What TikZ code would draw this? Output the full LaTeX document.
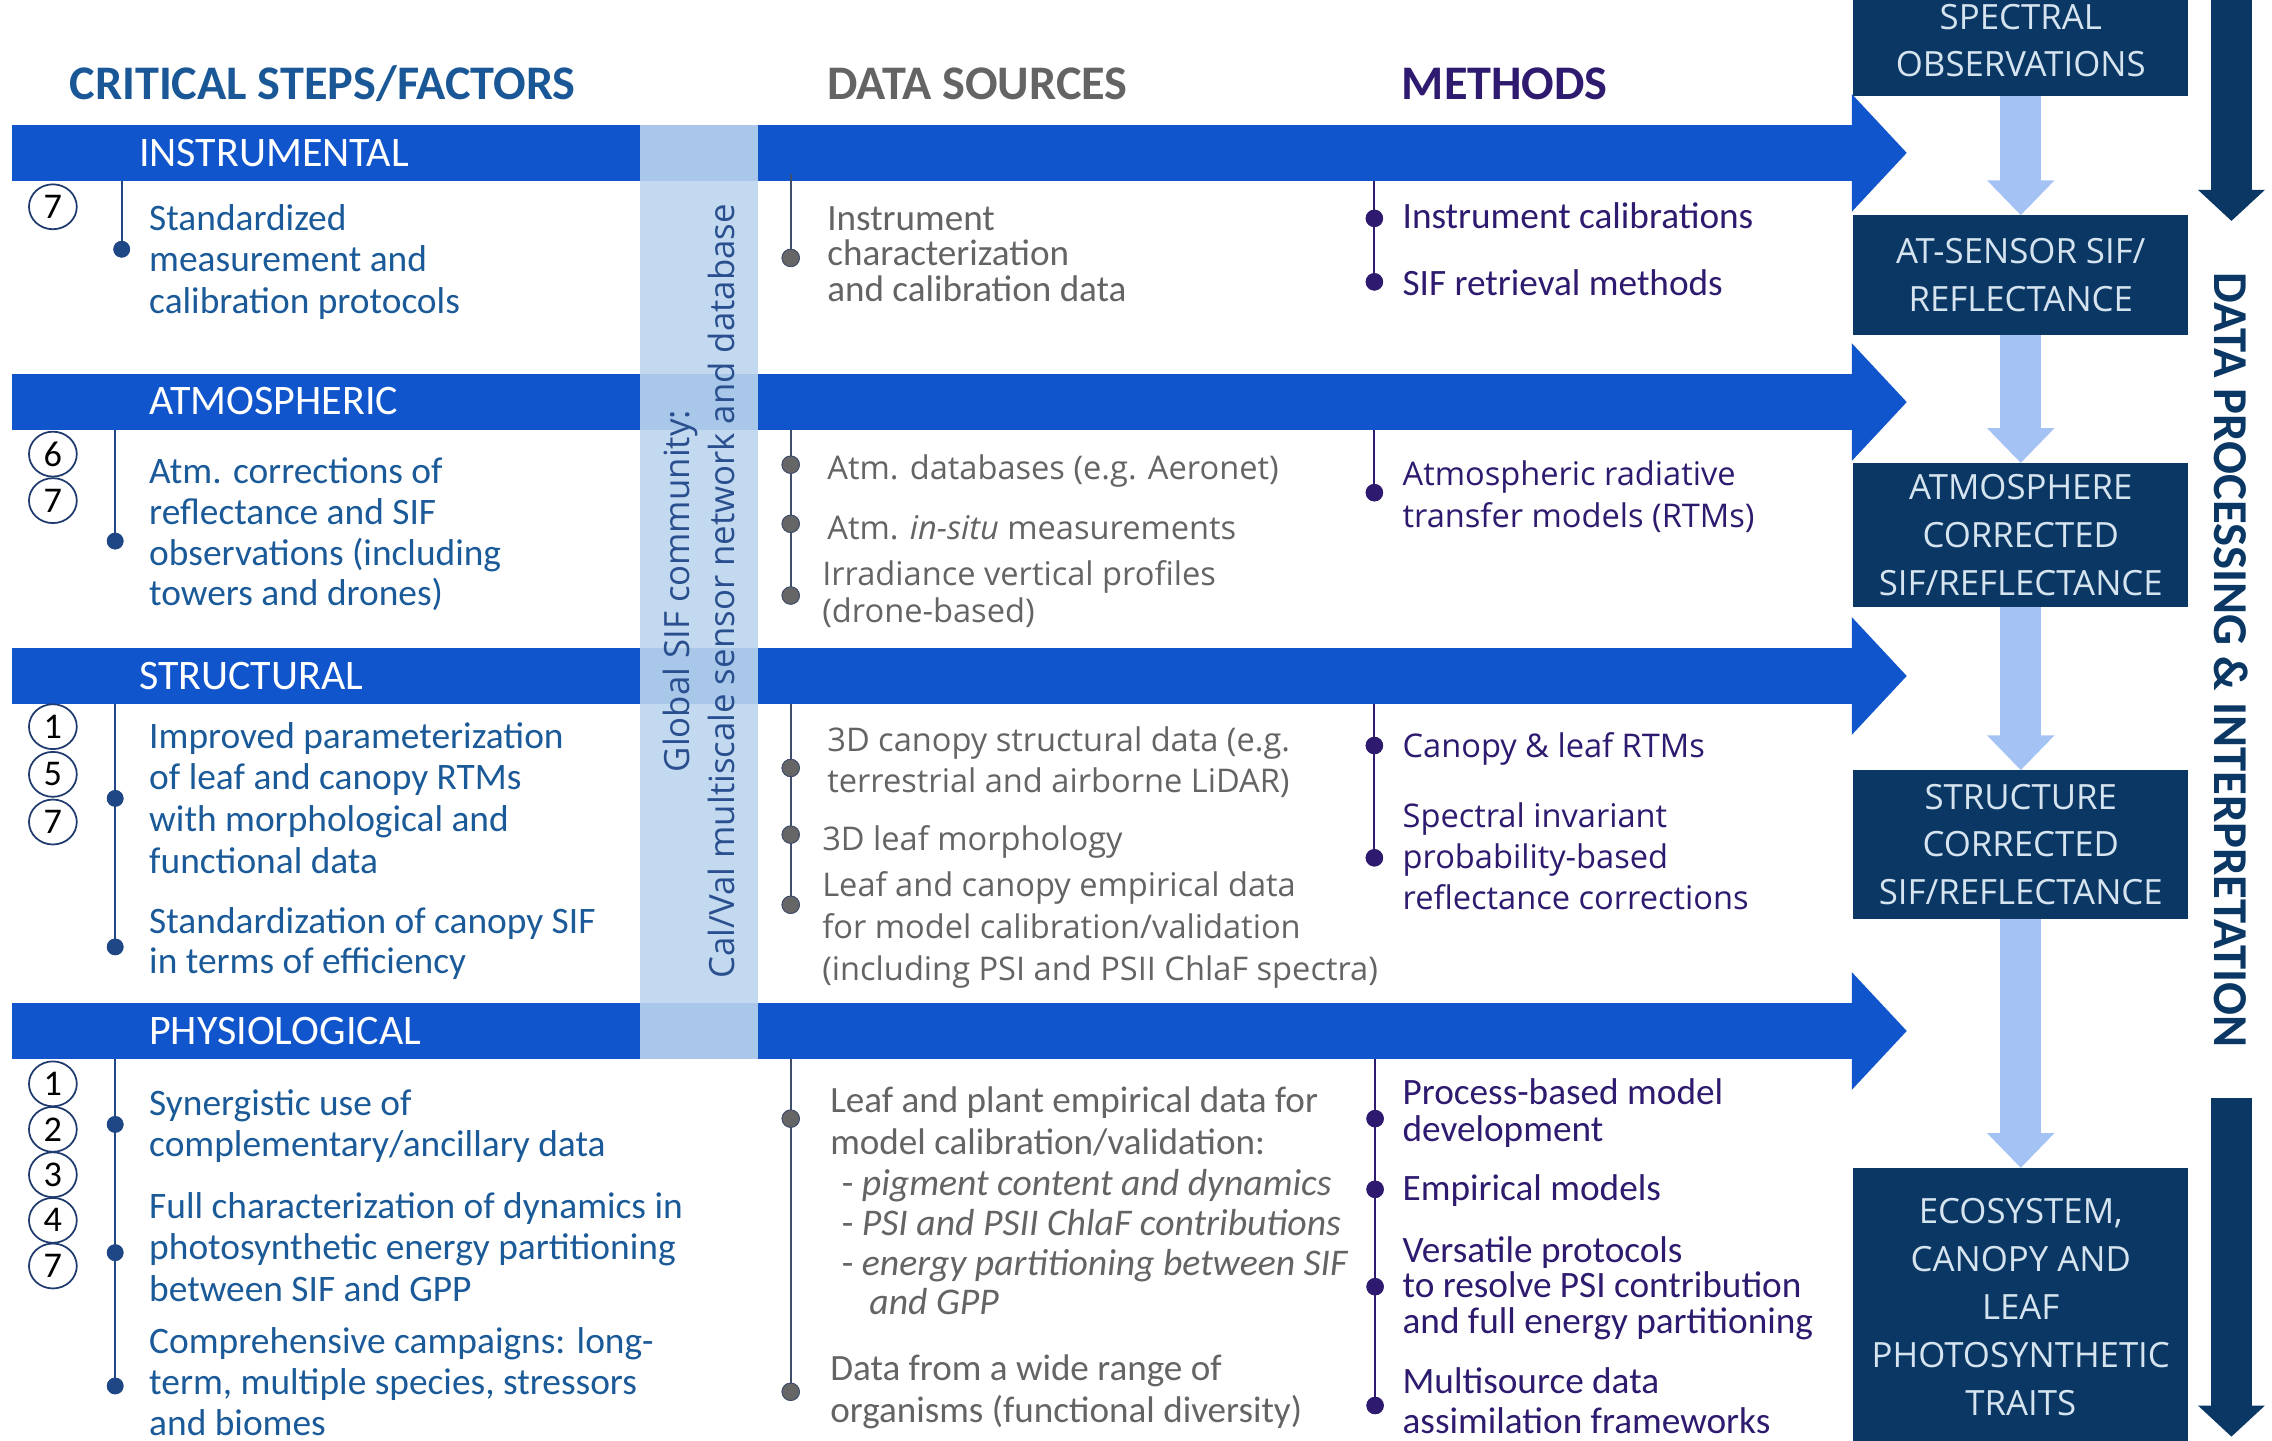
\documentclass[tikz,border=0pt]{standalone}
\usepackage{fontspec}
\setmainfont{Carlito}
\newfontfamily\osans{Open Sans}
\usetikzlibrary{arrows.meta,shapes.geometric}

\definecolor{bandblue}{HTML}{1155CC}
\definecolor{stripc}{HTML}{C2D9EF}
\definecolor{stripd}{HTML}{A9C7E9}
\definecolor{leftblue}{HTML}{1B5A98}
\definecolor{leftdot}{HTML}{1F4785}
\definecolor{hdrblue}{HTML}{1A5796}
\definecolor{graytxt}{HTML}{646464}
\definecolor{grayline}{HTML}{3F4E6B}
\definecolor{graydot}{HTML}{666666}
\definecolor{purp}{HTML}{2E1A6E}
\definecolor{navy}{HTML}{0A3764}
\definecolor{boxtxt}{HTML}{D6E4F0}
\definecolor{lightarr}{HTML}{A4C2F4}
\definecolor{circc}{HTML}{1E3A6E}
\definecolor{striptxt}{HTML}{2A4F8F}

\newcommand\tlines[6]{\foreach \tline [count=\tidx] in {#6}{\node[#1] (#2\tidx) at (#3,{#4+(\tidx-1)*#5}) {\tline};}}

\begin{document}
\begin{tikzpicture}[x=1pt,y=-1pt,
  every node/.style={inner sep=0pt,outer sep=0pt},
  lt/.style={text=leftblue,font=\fontsize{25.8}{29}\selectfont,anchor=base west},
  dt/.style={text=graytxt,font=\fontsize{25.6}{29}\selectfont,anchor=base west},
  dti/.style={text=graytxt,font=\itshape\fontsize{26}{29}\selectfont,anchor=base west},
  dto/.style={text=graytxt,font=\osans\fontsize{22.5}{26}\selectfont,anchor=base west},
  mt/.style={text=purp,font=\fontsize{25.7}{29}\selectfont,anchor=base west},
  mto/.style={text=purp,font=\osans\fontsize{22.5}{26}\selectfont,anchor=base west},
  hdr/.style={font=\bfseries\fontsize{33.3}{38}\selectfont,anchor=base west},
  bandlbl/.style={text=white,font=\fontsize{29}{32}\selectfont,anchor=base west},
  cnum/.style={ellipse,draw=circc,line width=1.2pt,minimum width=33pt,minimum height=31pt,font=\fontsize{25}{28}\selectfont,text=black},
  ldot/.style={circle,fill=leftdot,minimum size=11.5pt},
  gdot/.style={circle,fill=graydot,draw=grayline,line width=0.6pt,minimum size=12pt},
  pdot/.style={circle,fill=purp,minimum size=12pt},
  lline/.style={draw=leftdot,line width=1.4pt},
  gline/.style={draw=grayline,line width=1.4pt},
  pline/.style={draw=purp,line width=1.4pt},
  navybox/.style={fill=navy,text=boxtxt,minimum width=231pt,align=center,font=\osans\fontsize{24}{33}\selectfont},
  lightarrow/.style={draw=lightarr,line width=28.6pt,-{Triangle[length=24pt,width=45pt]}},
  navyarrow/.style={draw=navy,line width=28pt,-{Triangle[length=21.5pt,width=45pt]}},
  bandarrow/.style={draw=bandblue,line width=39pt,-{Triangle[length=38pt,width=79pt]}}
]
\useasboundingbox (0,0) rectangle (1568,994);
\fill[white] (0,0) rectangle (1568,994);

% ---------- headers
\node[hdr,text=hdrblue] (h1) at (48,69) {CRITICAL STEPS/FACTORS};
\node[hdr,text=graytxt] (h2) at (571,69) {DATA SOURCES};
\node[hdr,text=purp] (h3) at (967.5,69) {METHODS};

% ---------- band arrows
\coordinate (b1s) at (8,105.5);  \coordinate (b1e) at (1316,105.5);
\coordinate (b2s) at (8,277.5);  \coordinate (b2e) at (1316,277.5);
\coordinate (b3s) at (8,466.5);  \coordinate (b3e) at (1316,466.5);
\coordinate (b4s) at (8,711.5);  \coordinate (b4e) at (1316,711.5);
\draw[bandarrow] (b1s) -- (b1e);
\draw[bandarrow] (b2s) -- (b2e);
\draw[bandarrow] (b3s) -- (b3e);
\draw[bandarrow] (b4s) -- (b4e);

% ---------- vertical strip
\fill[stripc] (442,86) rectangle (523,731);
\fill[stripd] (442,86) rectangle (523,125);
\fill[stripd] (442,258) rectangle (523,297);
\fill[stripd] (442,447) rectangle (523,486);
\fill[stripd] (442,692) rectangle (523,731);
\node[rotate=90,align=center,text=striptxt,font=\osans\fontsize{24}{31}\selectfont] (striptext) at (482.5,408)
  {Global SIF community:\\Cal/Val multiscale sensor network and database};

% ---------- band labels
\node[bandlbl] (lb1) at (96,115) {INSTRUMENTAL};
\node[bandlbl] (lb2) at (103,286.4) {ATMOSPHERIC};
\node[bandlbl] (lb3) at (96,475.7) {STRUCTURAL};
\node[bandlbl] (lb4) at (103,721) {PHYSIOLOGICAL};

% ---------- left timelines
\coordinate (lit) at (84,125);
\coordinate (lat) at (79.5,297);
\coordinate (lst) at (79.5,486);
\coordinate (lpt) at (79.5,731);
\node[ldot] (lid1) at (84,172) {};
\node[ldot] (lad1) at (79.5,373.4) {};
\node[ldot] (lsd1) at (79.5,551) {};
\node[ldot] (lsd2) at (79.5,653.5) {};
\node[ldot] (lpd1) at (79.5,776) {};
\node[ldot] (lpd2) at (79.5,864.5) {};
\node[ldot] (lpd3) at (79.5,956.5) {};
\draw[lline] (lit) -- (lid1.center);
\draw[lline] (lat) -- (lad1.center);
\draw[lline] (lst) -- (lsd2.center);
\draw[lline] (lpt) -- (lpd3.center);
\foreach \d in {lid1,lad1,lsd1,lsd2,lpd1,lpd2,lpd3}{\fill[leftdot] (\d) circle (5.75pt);}

% ---------- circled numbers
\node[cnum] (ci7) at (36.5,142.7) {7};
\node[cnum] (ca6) at (36.5,313.4) {6};
\node[cnum] (ca7) at (36.5,345.5) {7};
\node[cnum] (cs1) at (36.5,501.5) {1};
\node[cnum] (cs5) at (36.5,534.4) {5};
\node[cnum] (cs7) at (36.5,567.3) {7};
\node[cnum] (cp1) at (36.5,748) {1};
\node[cnum] (cp2) at (36.5,779.4) {2};
\node[cnum] (cp3) at (36.5,810.7) {3};
\node[cnum] (cp4) at (36.5,842.2) {4};
\node[cnum] (cp7) at (36.5,873.7) {7};

% ---------- left texts
\tlines{lt}{li}{103}{159}{28.7}{Standardized,measurement and,calibration protocols}
\tlines{lt}{la}{103}{334}{28}{Atm. corrections of,reflectance and SIF,observations (including,towers and drones)}
\tlines{lt}{ls}{103}{516.4}{28.7}{Improved parameterization,of leaf and canopy RTMs,with morphological and,functional data}
\tlines{lt}{lsb}{103}{644}{27.6}{Standardization of canopy SIF,in terms of efficiency}
\tlines{lt}{lp}{103}{769.5}{28.8}{Synergistic use of,complementary/ancillary data}
\tlines{lt}{lpb}{103}{840.8}{28.6}{Full characterization of dynamics in,photosynthetic energy partitioning,between SIF and GPP}
\tlines{lt}{lpc}{103}{934}{28.4}{Comprehensive campaigns: long-,{term, multiple species, stressors},and biomes}

% ---------- data sources timelines
\coordinate (dit) at (545.7,120);
\coordinate (dat) at (545.7,297);
\coordinate (dst) at (545.7,486);
\coordinate (dpt) at (545.7,731);
\node[gdot] (did1) at (545.7,178) {};
\node[gdot] (dad1) at (545.7,320.7) {};
\node[gdot] (dad2) at (545.7,361.5) {};
\node[gdot] (dad3) at (545.7,411) {};
\node[gdot] (dsd1) at (545.7,530) {};
\node[gdot] (dsd2) at (545.7,576) {};
\node[gdot] (dsd3) at (545.7,624.4) {};
\node[gdot] (dpd1) at (545.7,772) {};
\node[gdot] (dpd2) at (545.7,960.5) {};
\draw[gline] (dit) -- (did1.center);
\draw[gline] (dat) -- (dad3.center);
\draw[gline] (dst) -- (dsd3.center);
\draw[gline] (dpt) -- (dpd2.center);
\foreach \d in {did1,dad1,dad2,dad3,dsd1,dsd2,dsd3,dpd1,dpd2}{\filldraw[fill=graydot,draw=grayline,line width=0.6pt] (\d) circle (6pt);}

% ---------- data sources texts
\tlines{dt}{di}{571}{159}{24.5}{Instrument,characterization,and calibration data}
\node[dto] (da1) at (571,331.2) {Atm. databases (e.g. Aeronet)};
\node[dto] (da2) at (571,372) {Atm. \textit{in-situ} measurements};
\tlines{dto}{da3}{567.5}{404.2}{25.3}{Irradiance vertical profiles,(drone-based)}
\tlines{dto}{ds1}{571}{518.3}{28.9}{3D canopy structural data (e.g.,terrestrial and airborne LiDAR)}
\node[dto] (ds2) at (567.5,586.7) {3D leaf morphology};
\tlines{dto}{ds3}{567.5}{618.4}{29}{Leaf and canopy empirical data,for model calibration/validation,(including PSI and PSII ChlaF spectra)}
\tlines{dt}{dp1}{573}{767.5}{29.3}{Leaf and plant empirical data for,model calibration/validation:}
\node[dti] (dp2) at (581,825) {\upshape- \itshape pigment content and dynamics};
\node[dti] (dp3) at (581,852.5) {\upshape- \itshape PSI and PSII ChlaF contributions};
\node[dti] (dp4) at (581,880) {\upshape- \itshape energy partitioning between SIF};
\node[dti] (dp5) at (600,907.5) {and GPP};
\tlines{dt}{dp6}{573}{953}{28.5}{Data from a wide range of,organisms (functional diversity)}

% ---------- methods timelines
\coordinate (mit) at (948.5,125);
\coordinate (mat) at (948.5,297);
\coordinate (mst) at (948.5,486);
\coordinate (mpt) at (949,731);
\node[pdot] (mid1) at (948.5,150.7) {};
\node[pdot] (mid2) at (948.5,194.5) {};
\node[pdot] (mad1) at (948.5,340) {};
\node[pdot] (msd1) at (948.5,514.5) {};
\node[pdot] (msd2) at (948.5,592) {};
\node[pdot] (mpd1) at (949,772) {};
\node[pdot] (mpd2) at (949,820.8) {};
\node[pdot] (mpd3) at (949,888) {};
\node[pdot] (mpd4) at (949,970) {};
\draw[pline] (mit) -- (mid2.center);
\draw[pline] (mat) -- (mad1.center);
\draw[pline] (mst) -- (msd2.center);
\draw[pline] (mpt) -- (mpd4.center);
\foreach \d in {mid1,mid2,mad1,msd1,msd2,mpd1,mpd2,mpd3,mpd4}{\fill[purp] (\d) circle (6pt);}

% ---------- methods texts
\node[mt] (mi1) at (968,157.5) {Instrument calibrations};
\node[mt] (mi2) at (968,203.6) {SIF retrieval methods};
\tlines{mto}{ma}{968}{335}{29}{Atmospheric radiative,transfer models (RTMs)}
\node[mto] (ms1) at (968,522.5) {Canopy \& leaf RTMs};
\tlines{mto}{ms2}{968}{571}{28.5}{Spectral invariant,probability-based,reflectance corrections}
\tlines{mt}{mp1}{968}{762}{26}{Process-based model,development}
\node[mt] (mp2) at (968,828.5) {Empirical models};
\tlines{mt}{mp3}{968}{871}{24.7}{Versatile protocols,to resolve PSI contribution,and full energy partitioning}
\tlines{mt}{mp4}{968}{962}{27.5}{Multisource data,assimilation frameworks}

% ---------- right column
\node[navybox,minimum height=76pt] (r1) at (1394.6,28) {SPECTRAL\\OBSERVATIONS};
\node[navybox,minimum height=83pt] (r2) at (1394.6,190) {AT-SENSOR SIF/\\REFLECTANCE};
\node[navybox,minimum height=99.5pt] (r3) at (1394.6,369.25) {ATMOSPHERE\\CORRECTED\\SIF/REFLECTANCE};
\node[navybox,minimum height=102.5pt] (r4) at (1394.6,582.75) {STRUCTURE\\CORRECTED\\SIF/REFLECTANCE};
\node[navybox,minimum height=192pt] (r5) at (1394.6,902) {ECOSYSTEM,\\CANOPY AND\\LEAF\\PHOTOSYNTHETIC\\TRAITS};
\draw[lightarrow] (r1.south) -- (r2.north);
\draw[lightarrow] (r2.south) -- (r3.north);
\draw[lightarrow] (r3.south) -- (r4.north);
\draw[lightarrow] (r4.south) -- (r5.north);

% ---------- data processing arrows
\coordinate (dpa1) at (1540,-5);   \coordinate (dpa1e) at (1540,152.5);
\coordinate (dpa2) at (1540,757.8); \coordinate (dpa2e) at (1540,991.5);
\draw[navyarrow] (dpa1) -- (dpa1e);
\draw[navyarrow] (dpa2) -- (dpa2e);
\node[rotate=-90,text=navy,font=\bfseries\fontsize{33.6}{36}\selectfont] (dptext) at (1540,455.6) {DATA PROCESSING \& INTERPRETATION};
\end{tikzpicture}
\end{document}
